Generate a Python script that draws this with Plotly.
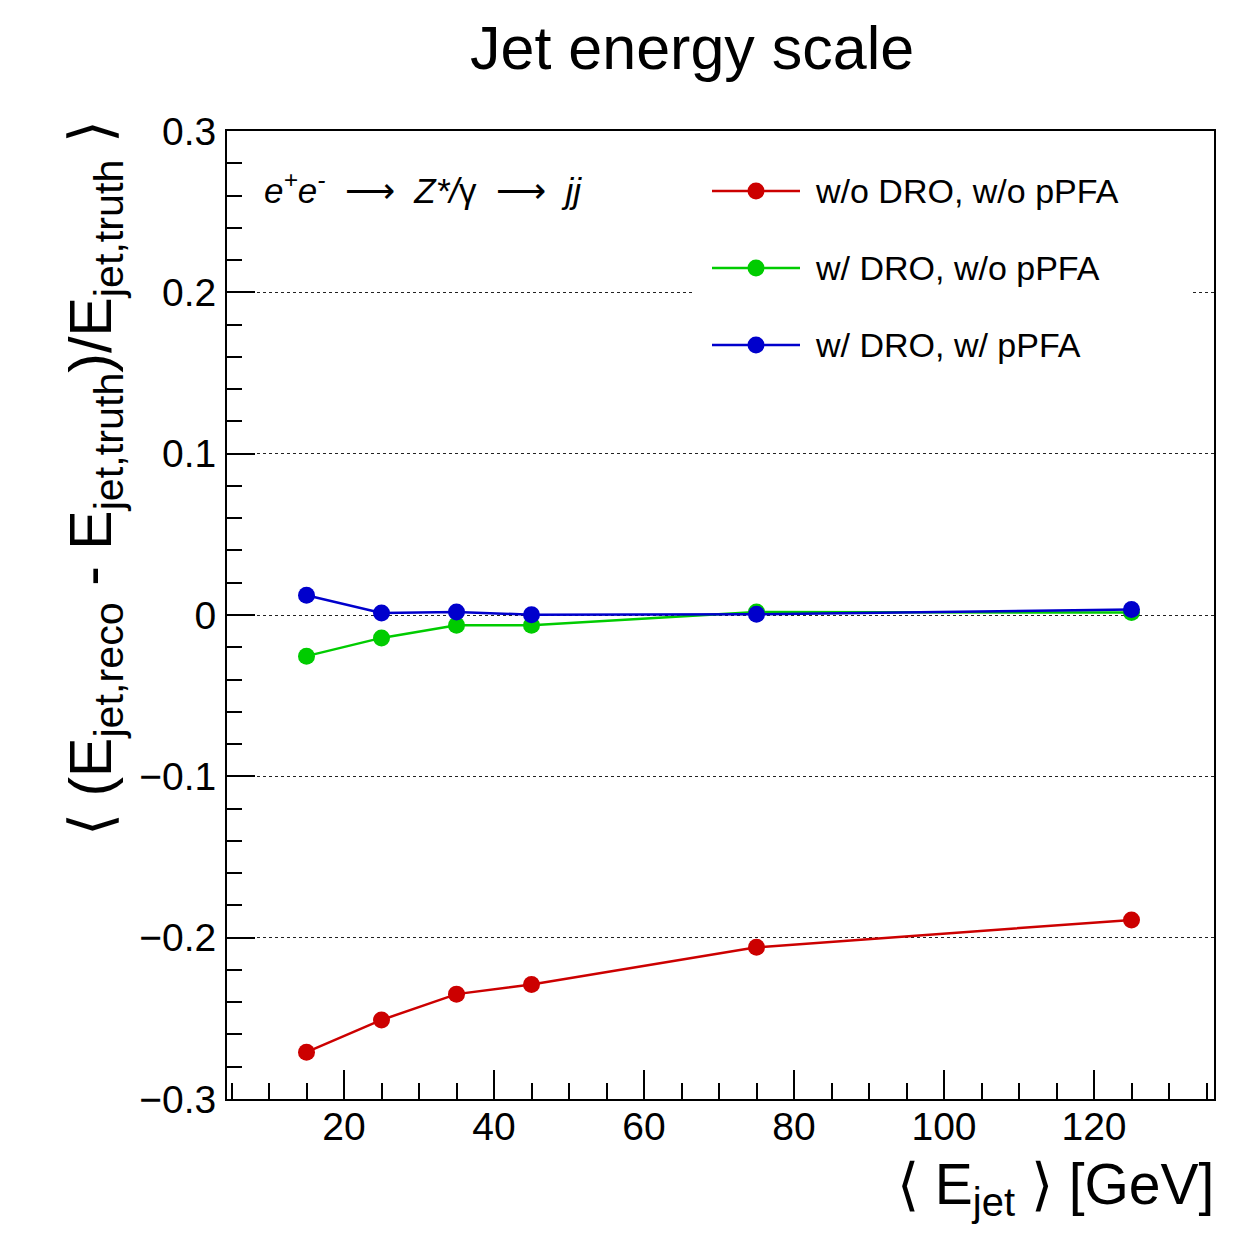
import plotly.graph_objects as go

# ---- data ----
e_jet = [15, 25, 35, 45, 75, 125]
wo_dro_wo_ppfa = [-0.271, -0.251, -0.235, -0.229, -0.206, -0.189]
w_dro_wo_ppfa = [-0.0255, -0.0142, -0.0063, -0.0063, 0.0018, 0.0015]
w_dro_w_ppfa = [0.0122, 0.0013, 0.0018, 0.0002, 0.0004, 0.0034]
series_names = ["w/o DRO, w/o pPFA", "w/ DRO, w/o pPFA", "w/ DRO, w/ pPFA"]
series_colors = ["#cc0000", "#00cc00", "#0000cc"]
y_tickvals = [-0.3, -0.2, -0.1, 0.0, 0.1, 0.2, 0.3]
y_ticktext = ["−0.3", "−0.2", "−0.1", "0", "0.1", "0.2", "0.3"]
x_tickvals = [20, 40, 60, 80, 100, 120]
x_ticktext = ["20", "40", "60", "80", "100", "120"]

FONT = "Liberation Sans, Arial, Helvetica, sans-serif"
W, H = 1260, 1239
OFF = 8  # page body margin
L, R, T, B = 227, 1214, 131, 1099  # plot area in page pixels


def px(x):
    return (x - L) / (R - L)


def py(y):
    return (B - y) / (B - T)


fig = go.Figure()
for name, vals, col in zip(series_names, [wo_dro_wo_ppfa, w_dro_wo_ppfa, w_dro_w_ppfa], series_colors):
    fig.add_trace(go.Scatter(
        x=e_jet, y=vals, name=name, mode="lines+markers",
        line=dict(color=col, width=2.5),
        marker=dict(color=col, size=17, symbol="circle"),
        showlegend=False,
    ))

shapes = []
annotations = []

# white legend box covering the grid line
shapes.append(dict(type="rect", xref="paper", yref="paper",
                   x0=px(692), x1=px(1192), y0=py(380), y1=py(150),
                   fillcolor="white", line=dict(width=0), layer="above"))

legend_rows = [191, 268, 345]
for name, col, ry in zip(series_names, series_colors, legend_rows):
    shapes.append(dict(type="line", xref="paper", yref="paper",
                       x0=px(712), x1=px(800), y0=py(ry), y1=py(ry),
                       line=dict(color=col, width=2.5), layer="above"))
    shapes.append(dict(type="circle", xref="paper", yref="paper",
                       xsizemode="pixel", ysizemode="pixel",
                       xanchor=px(756), yanchor=py(ry),
                       x0=-8.5, x1=8.5, y0=-8.5, y1=8.5,
                       fillcolor=col, line=dict(color=col, width=0), layer="above"))
    annotations.append(dict(x=px(813), y=py(ry), xref="paper", yref="paper",
                            text=name, showarrow=False, xanchor="left", yanchor="middle",
                            font=dict(family=FONT, size=34, color="black")))

# title
annotations.append(dict(x=px(692), y=py(48), xref="paper", yref="paper",
                        text="Jet energy scale", showarrow=False,
                        xanchor="center", yanchor="middle",
                        font=dict(family=FONT, size=61, color="black")))

# process label
NB = "\u00a0"
annotations.append(dict(x=px(262), y=py(188), xref="paper", yref="paper",
                        text=("<i>e<sup>+</sup>e<sup>-</sup></i>" + NB * 2 + "⟶" + NB * 2
                              + "<i>Z*/</i>γ" + NB * 2 + "⟶" + NB * 2 + "<i>jj</i>"),
                        showarrow=False, xanchor="left", yanchor="middle",
                        font=dict(family=FONT, size=35, color="black")))

# x axis title
annotations.append(dict(x=px(1216), y=py(1150), xref="paper", yref="paper",
                        text="⟨ E<sub>jet</sub> ⟩ [GeV]", showarrow=False,
                        xanchor="right", yanchor="top",
                        font=dict(family=FONT, size=57, color="black")))

# y axis title
annotations.append(dict(x=px(95), y=py(118), xref="paper", yref="paper",
                        text="⟨ (E<sub>jet,reco</sub> - E<sub>jet,truth</sub>)/E<sub>jet,truth</sub> ⟩",
                        showarrow=False, textangle=-90,
                        xanchor="center", yanchor="top",
                        font=dict(family=FONT, size=59, color="black")))

fig.update_layout(
    width=W, height=H,
    margin=dict(l=L - OFF, r=W - (R - OFF), t=T - OFF, b=H - (B - OFF), pad=0),
    paper_bgcolor="white", plot_bgcolor="white",
    font=dict(family=FONT, color="black"),
    shapes=shapes, annotations=annotations,
    showlegend=False,
)

fig.update_xaxes(
    range=[4.4, 136], showgrid=False, zeroline=False,
    showline=True, linecolor="black", linewidth=2, mirror=True,
    ticks="inside", ticklen=29, tickwidth=2, tickcolor="black",
    tickmode="array", tickvals=x_tickvals, ticktext=x_ticktext,
    minor=dict(ticks="inside", ticklen=16, tickwidth=2, tickcolor="black",
               tick0=0, dtick=5, showgrid=False),
    tickfont=dict(family=FONT, size=39, color="black"),
    ticklabelstandoff=-8,
)
fig.update_yaxes(
    range=[-0.3, 0.3], zeroline=False,
    showgrid=True, gridcolor="#222222", gridwidth=1.2, griddash="dot",
    showline=True, linecolor="black", linewidth=2, mirror=True,
    ticks="inside", ticklen=28, tickwidth=2, tickcolor="black",
    tickmode="array", tickvals=y_tickvals, ticktext=y_ticktext,
    minor=dict(ticks="inside", ticklen=15, tickwidth=2, tickcolor="black",
               tick0=0, dtick=0.02, showgrid=False),
    tickfont=dict(family=FONT, size=39, color="black"),
    ticklabelstandoff=1,
)

fig.write_html("out.html")
